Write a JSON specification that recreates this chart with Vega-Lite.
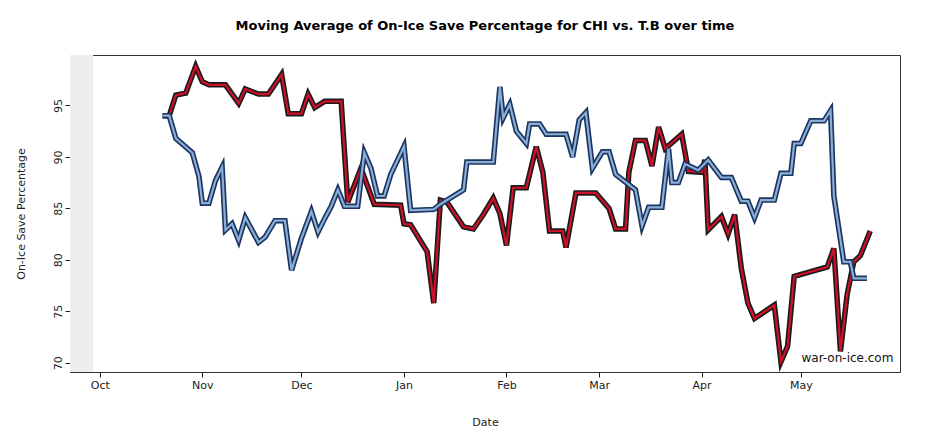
{
  "$schema": "https://vega.github.io/schema/vega-lite/v6.json",
  "width": 830,
  "height": 317,
  "autosize": "none",
  "padding": {"left": 70, "top": 55, "right": 25, "bottom": 69},
  "title": {"text": "Moving Average of On-Ice Save Percentage for CHI vs. T.B over time", "font": "DejaVu Sans", "fontSize": 13, "fontWeight": "bold", "offset": 22},
  "config": {"font": "DejaVu Sans", "view": {"stroke": "#333", "strokeWidth": 1}},
  "datasets": {
    "series": [
      {"team": "CHI", "date": "2014-10-20", "pct": 94.0},
      {"team": "CHI", "date": "2014-10-22", "pct": 94.0},
      {"team": "CHI", "date": "2014-10-24", "pct": 96.0},
      {"team": "CHI", "date": "2014-10-27", "pct": 96.2},
      {"team": "CHI", "date": "2014-10-30", "pct": 98.8},
      {"team": "CHI", "date": "2014-11-01", "pct": 97.3},
      {"team": "CHI", "date": "2014-11-03", "pct": 97.0},
      {"team": "CHI", "date": "2014-11-08", "pct": 97.0},
      {"team": "CHI", "date": "2014-11-12", "pct": 95.2},
      {"team": "CHI", "date": "2014-11-14", "pct": 96.6},
      {"team": "CHI", "date": "2014-11-18", "pct": 96.1},
      {"team": "CHI", "date": "2014-11-21", "pct": 96.1},
      {"team": "CHI", "date": "2014-11-25", "pct": 98.0},
      {"team": "CHI", "date": "2014-11-27", "pct": 94.2},
      {"team": "CHI", "date": "2014-12-01", "pct": 94.2},
      {"team": "CHI", "date": "2014-12-03", "pct": 96.1},
      {"team": "CHI", "date": "2014-12-05", "pct": 94.8},
      {"team": "CHI", "date": "2014-12-08", "pct": 95.4},
      {"team": "CHI", "date": "2014-12-13", "pct": 95.4},
      {"team": "CHI", "date": "2014-12-15", "pct": 85.6},
      {"team": "CHI", "date": "2014-12-19", "pct": 88.9},
      {"team": "CHI", "date": "2014-12-23", "pct": 85.4},
      {"team": "CHI", "date": "2014-12-31", "pct": 85.3},
      {"team": "CHI", "date": "2015-01-01", "pct": 83.5},
      {"team": "CHI", "date": "2015-01-03", "pct": 83.4},
      {"team": "CHI", "date": "2015-01-08", "pct": 80.8},
      {"team": "CHI", "date": "2015-01-10", "pct": 75.8},
      {"team": "CHI", "date": "2015-01-12", "pct": 85.8},
      {"team": "CHI", "date": "2015-01-14", "pct": 85.6},
      {"team": "CHI", "date": "2015-01-19", "pct": 83.2},
      {"team": "CHI", "date": "2015-01-22", "pct": 83.0},
      {"team": "CHI", "date": "2015-01-25", "pct": 84.4},
      {"team": "CHI", "date": "2015-01-28", "pct": 86.0},
      {"team": "CHI", "date": "2015-01-30", "pct": 84.5},
      {"team": "CHI", "date": "2015-02-01", "pct": 81.4},
      {"team": "CHI", "date": "2015-02-03", "pct": 87.0},
      {"team": "CHI", "date": "2015-02-07", "pct": 87.0},
      {"team": "CHI", "date": "2015-02-10", "pct": 91.0},
      {"team": "CHI", "date": "2015-02-12", "pct": 88.5},
      {"team": "CHI", "date": "2015-02-14", "pct": 82.8},
      {"team": "CHI", "date": "2015-02-18", "pct": 82.8},
      {"team": "CHI", "date": "2015-02-19", "pct": 81.2},
      {"team": "CHI", "date": "2015-02-22", "pct": 86.5},
      {"team": "CHI", "date": "2015-02-28", "pct": 86.5},
      {"team": "CHI", "date": "2015-03-04", "pct": 85.0},
      {"team": "CHI", "date": "2015-03-06", "pct": 83.0},
      {"team": "CHI", "date": "2015-03-09", "pct": 83.0},
      {"team": "CHI", "date": "2015-03-10", "pct": 88.5},
      {"team": "CHI", "date": "2015-03-12", "pct": 91.6},
      {"team": "CHI", "date": "2015-03-15", "pct": 91.6},
      {"team": "CHI", "date": "2015-03-17", "pct": 89.1},
      {"team": "CHI", "date": "2015-03-19", "pct": 92.9},
      {"team": "CHI", "date": "2015-03-21", "pct": 90.8},
      {"team": "CHI", "date": "2015-03-26", "pct": 92.2},
      {"team": "CHI", "date": "2015-03-28", "pct": 88.6},
      {"team": "CHI", "date": "2015-04-01", "pct": 88.5},
      {"team": "CHI", "date": "2015-04-02", "pct": 89.7},
      {"team": "CHI", "date": "2015-04-03", "pct": 82.9},
      {"team": "CHI", "date": "2015-04-07", "pct": 84.2},
      {"team": "CHI", "date": "2015-04-09", "pct": 82.5},
      {"team": "CHI", "date": "2015-04-11", "pct": 84.4},
      {"team": "CHI", "date": "2015-04-13", "pct": 79.2},
      {"team": "CHI", "date": "2015-04-15", "pct": 75.8},
      {"team": "CHI", "date": "2015-04-17", "pct": 74.3},
      {"team": "CHI", "date": "2015-04-23", "pct": 75.6},
      {"team": "CHI", "date": "2015-04-25", "pct": 70.1},
      {"team": "CHI", "date": "2015-04-27", "pct": 71.6},
      {"team": "CHI", "date": "2015-04-29", "pct": 78.4},
      {"team": "CHI", "date": "2015-05-09", "pct": 79.3},
      {"team": "CHI", "date": "2015-05-11", "pct": 81.1},
      {"team": "CHI", "date": "2015-05-13", "pct": 71.1},
      {"team": "CHI", "date": "2015-05-15", "pct": 76.6},
      {"team": "CHI", "date": "2015-05-17", "pct": 79.8},
      {"team": "CHI", "date": "2015-05-19", "pct": 80.4},
      {"team": "CHI", "date": "2015-05-22", "pct": 82.8},
      {"team": "T.B", "date": "2014-10-20", "pct": 94.0},
      {"team": "T.B", "date": "2014-10-22", "pct": 94.0},
      {"team": "T.B", "date": "2014-10-24", "pct": 91.8},
      {"team": "T.B", "date": "2014-10-29", "pct": 90.4},
      {"team": "T.B", "date": "2014-10-31", "pct": 88.1},
      {"team": "T.B", "date": "2014-11-01", "pct": 85.5},
      {"team": "T.B", "date": "2014-11-03", "pct": 85.5},
      {"team": "T.B", "date": "2014-11-05", "pct": 87.7},
      {"team": "T.B", "date": "2014-11-07", "pct": 89.0},
      {"team": "T.B", "date": "2014-11-08", "pct": 82.9},
      {"team": "T.B", "date": "2014-11-10", "pct": 83.5},
      {"team": "T.B", "date": "2014-11-12", "pct": 81.9},
      {"team": "T.B", "date": "2014-11-14", "pct": 84.1},
      {"team": "T.B", "date": "2014-11-18", "pct": 81.7},
      {"team": "T.B", "date": "2014-11-20", "pct": 82.2},
      {"team": "T.B", "date": "2014-11-23", "pct": 83.8},
      {"team": "T.B", "date": "2014-11-26", "pct": 83.8},
      {"team": "T.B", "date": "2014-11-28", "pct": 79.0},
      {"team": "T.B", "date": "2014-12-01", "pct": 82.1},
      {"team": "T.B", "date": "2014-12-04", "pct": 84.7},
      {"team": "T.B", "date": "2014-12-06", "pct": 82.7},
      {"team": "T.B", "date": "2014-12-08", "pct": 84.0},
      {"team": "T.B", "date": "2014-12-10", "pct": 85.2},
      {"team": "T.B", "date": "2014-12-12", "pct": 86.8},
      {"team": "T.B", "date": "2014-12-14", "pct": 85.2},
      {"team": "T.B", "date": "2014-12-18", "pct": 85.2},
      {"team": "T.B", "date": "2014-12-20", "pct": 90.4},
      {"team": "T.B", "date": "2014-12-22", "pct": 88.9},
      {"team": "T.B", "date": "2014-12-24", "pct": 86.2},
      {"team": "T.B", "date": "2014-12-26", "pct": 86.2},
      {"team": "T.B", "date": "2014-12-28", "pct": 88.3},
      {"team": "T.B", "date": "2015-01-01", "pct": 91.0},
      {"team": "T.B", "date": "2015-01-03", "pct": 84.8},
      {"team": "T.B", "date": "2015-01-10", "pct": 84.9},
      {"team": "T.B", "date": "2015-01-12", "pct": 85.4},
      {"team": "T.B", "date": "2015-01-19", "pct": 86.8},
      {"team": "T.B", "date": "2015-01-20", "pct": 89.5},
      {"team": "T.B", "date": "2015-01-28", "pct": 89.5},
      {"team": "T.B", "date": "2015-01-30", "pct": 96.8},
      {"team": "T.B", "date": "2015-01-31", "pct": 93.8},
      {"team": "T.B", "date": "2015-02-02", "pct": 95.1},
      {"team": "T.B", "date": "2015-02-04", "pct": 92.5},
      {"team": "T.B", "date": "2015-02-07", "pct": 91.3},
      {"team": "T.B", "date": "2015-02-08", "pct": 93.2},
      {"team": "T.B", "date": "2015-02-11", "pct": 93.2},
      {"team": "T.B", "date": "2015-02-13", "pct": 92.2},
      {"team": "T.B", "date": "2015-02-19", "pct": 92.2},
      {"team": "T.B", "date": "2015-02-21", "pct": 90.0},
      {"team": "T.B", "date": "2015-02-23", "pct": 93.6},
      {"team": "T.B", "date": "2015-02-25", "pct": 94.3},
      {"team": "T.B", "date": "2015-02-27", "pct": 88.9},
      {"team": "T.B", "date": "2015-03-02", "pct": 90.5},
      {"team": "T.B", "date": "2015-03-04", "pct": 90.5},
      {"team": "T.B", "date": "2015-03-06", "pct": 88.3},
      {"team": "T.B", "date": "2015-03-12", "pct": 86.8},
      {"team": "T.B", "date": "2015-03-14", "pct": 83.3},
      {"team": "T.B", "date": "2015-03-16", "pct": 85.1},
      {"team": "T.B", "date": "2015-03-20", "pct": 85.1},
      {"team": "T.B", "date": "2015-03-22", "pct": 90.8},
      {"team": "T.B", "date": "2015-03-23", "pct": 87.5},
      {"team": "T.B", "date": "2015-03-25", "pct": 87.5},
      {"team": "T.B", "date": "2015-03-27", "pct": 89.3},
      {"team": "T.B", "date": "2015-03-31", "pct": 88.7},
      {"team": "T.B", "date": "2015-04-03", "pct": 89.7},
      {"team": "T.B", "date": "2015-04-07", "pct": 88.0},
      {"team": "T.B", "date": "2015-04-10", "pct": 88.0},
      {"team": "T.B", "date": "2015-04-13", "pct": 85.7},
      {"team": "T.B", "date": "2015-04-15", "pct": 85.7},
      {"team": "T.B", "date": "2015-04-17", "pct": 84.1},
      {"team": "T.B", "date": "2015-04-19", "pct": 85.8},
      {"team": "T.B", "date": "2015-04-23", "pct": 85.8},
      {"team": "T.B", "date": "2015-04-25", "pct": 88.4},
      {"team": "T.B", "date": "2015-04-28", "pct": 88.4},
      {"team": "T.B", "date": "2015-04-29", "pct": 91.3},
      {"team": "T.B", "date": "2015-05-01", "pct": 91.3},
      {"team": "T.B", "date": "2015-05-04", "pct": 93.5},
      {"team": "T.B", "date": "2015-05-08", "pct": 93.5},
      {"team": "T.B", "date": "2015-05-10", "pct": 94.5},
      {"team": "T.B", "date": "2015-05-11", "pct": 86.2},
      {"team": "T.B", "date": "2015-05-14", "pct": 79.8},
      {"team": "T.B", "date": "2015-05-16", "pct": 79.8},
      {"team": "T.B", "date": "2015-05-17", "pct": 78.2},
      {"team": "T.B", "date": "2015-05-21", "pct": 78.2}
    ],
    "band": [{"start": "2014-09-22", "end": "2014-09-29", "lo": 69.1, "hi": 99.9}],
    "mark": [{"label": "war-on-ice.com", "date": "2015-05-29", "pct": 69.8}]
  },
  "layer": [
    {
      "data": {"name": "band"},
      "mark": {"type": "rect", "color": "#eeeeee"},
      "encoding": {
        "x": {"field": "start", "type": "temporal", "scale": {"domain": ["2014-09-22", "2015-05-31"]},
          "axis": {"title": "Date", "format": "%b", "tickCount": {"interval": "month", "step": 1}, "grid": false, "domain": false, "labelFontSize": 11, "titleFontSize": 11, "titleFontWeight": "normal", "titlePadding": 26, "labelColor": "#222", "tickColor": "#222", "titleColor": "#222"}},
        "x2": {"field": "end"},
        "y": {"field": "lo", "type": "quantitative", "scale": {"domain": [69.1, 99.9], "nice": false, "zero": false},
          "axis": {"title": "On-Ice Save Percentage", "values": [70, 75, 80, 85, 90, 95], "grid": false, "domain": false, "labelAngle": -90, "labelAlign": "center", "labelBaseline": "bottom", "labelFontSize": 11, "titleFontSize": 11, "titleFontWeight": "normal", "titlePadding": 26, "labelColor": "#222", "tickColor": "#222", "titleColor": "#222"}},
        "y2": {"field": "hi"}
      }
    },
    {
      "data": {"name": "series"},
      "transform": [{"filter": "datum.team === 'CHI'"}],
      "mark": {"type": "line", "color": "#1a1a1a", "strokeWidth": 5.5, "clip": true},
      "encoding": {"x": {"field": "date", "type": "temporal"}, "y": {"field": "pct", "type": "quantitative"}}
    },
    {
      "data": {"name": "series"},
      "transform": [{"filter": "datum.team === 'CHI'"}],
      "mark": {"type": "line", "color": "#d01028", "strokeWidth": 2.2, "clip": true},
      "encoding": {"x": {"field": "date", "type": "temporal"}, "y": {"field": "pct", "type": "quantitative"}}
    },
    {
      "data": {"name": "series"},
      "transform": [{"filter": "datum.team === 'T.B'"}],
      "mark": {"type": "line", "color": "#1b3560", "strokeWidth": 5.5, "clip": true},
      "encoding": {"x": {"field": "date", "type": "temporal"}, "y": {"field": "pct", "type": "quantitative"}}
    },
    {
      "data": {"name": "series"},
      "transform": [{"filter": "datum.team === 'T.B'"}],
      "mark": {"type": "line", "color": "#8aaed6", "strokeWidth": 2.2, "clip": true},
      "encoding": {"x": {"field": "date", "type": "temporal"}, "y": {"field": "pct", "type": "quantitative"}}
    },
    {
      "data": {"name": "mark"},
      "mark": {"type": "text", "align": "right", "baseline": "bottom", "fontSize": 12, "color": "#111"},
      "encoding": {"text": {"field": "label"}, "x": {"field": "date", "type": "temporal"}, "y": {"field": "pct", "type": "quantitative"}}
    }
  ]
}
